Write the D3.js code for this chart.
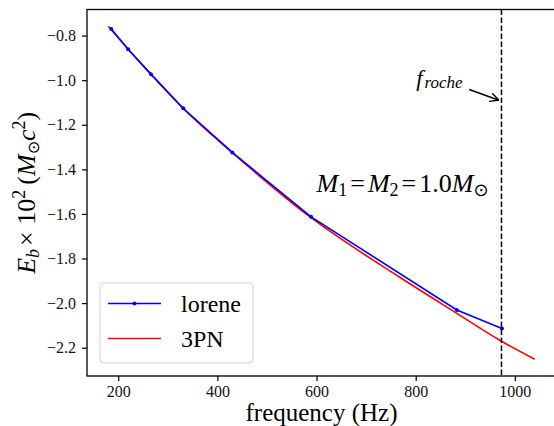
<!DOCTYPE html>
<html>
<head>
<meta charset="utf-8">
<script src="https://cdn.jsdelivr.net/npm/d3@7"></script>
<style>
  body { margin: 0; background: #fff; }
  svg { display: block; }
  svg text { font-family: "Liberation Serif", "Times New Roman", "DejaVu Serif", serif; }
</style>
</head>
<body>
<svg id="chart" width="554" height="426"></svg>
<script>
// lorene sequence
const loreneFreq = [186, 220, 266, 331, 430, 589, 883, 974];
const loreneEb = [-0.770, -0.861, -0.973, -1.126, -1.324, -1.613, -2.031, -2.114];

// 3PN curve
const pnFreq = [180, 220, 266, 331, 430, 589, 767, 883, 973, 1040];
const pnEb = [-0.758, -0.861, -0.974, -1.127, -1.325, -1.617, -1.883, -2.046, -2.171, -2.252];

const xTicks = [200, 400, 600, 800, 1000];
const yTicks = [-0.8, -1.0, -1.2, -1.4, -1.6, -1.8, -2.0, -2.2];

const fRoche = 973;

const margin = { left: 87, top: 9.5, right: 556, bottom: 376 };

const svg = d3.select('#chart');

const x = d3.scaleLinear().domain([137, 1083]).range([margin.left, margin.right]);
const y = d3.scaleLinear().domain([-2.327, -0.683]).range([margin.bottom, margin.top]);

const lorene = loreneFreq.map((f, i) => ({ f: f, e: loreneEb[i] }));
const pn = pnFreq.map((f, i) => ({ f: f, e: pnEb[i] }));

// axes
const xAxis = svg.append('g')
    .attr('transform', `translate(0,${margin.bottom})`)
    .call(d3.axisBottom(x).tickValues(xTicks).tickSize(5).tickPadding(5).tickFormat(d3.format('d')));
const yAxis = svg.append('g')
    .attr('transform', `translate(${margin.left},0)`)
    .call(d3.axisLeft(y).tickValues(yTicks).tickSize(5).tickPadding(6).tickFormat(d3.format('.1f')));

[xAxis, yAxis].forEach(g => {
    g.attr('font-family', null).attr('font-size', null);
    g.select('.domain').remove();
    g.selectAll('.tick line').attr('stroke', '#000').attr('stroke-width', 1.2);
    g.selectAll('.tick text').attr('fill', '#111').style('font-size', '16px');
});

// frame
svg.append('rect')
    .attr('x', margin.left).attr('y', margin.top)
    .attr('width', margin.right - margin.left)
    .attr('height', margin.bottom - margin.top)
    .attr('fill', 'none').attr('stroke', '#000').attr('stroke-width', 1.3);

// 3PN
svg.append('path')
    .datum(pn)
    .attr('fill', 'none')
    .attr('stroke', '#ff0000')
    .attr('stroke-width', 1.6)
    .attr('d', d3.line().x(d => x(d.f)).y(d => y(d.e)).curve(d3.curveMonotoneX));

// lorene
svg.append('path')
    .datum(lorene)
    .attr('fill', 'none')
    .attr('stroke', '#0000ff')
    .attr('stroke-width', 1.6)
    .attr('d', d3.line().x(d => x(d.f)).y(d => y(d.e)));

svg.selectAll('circle.pt')
    .data(lorene)
    .enter()
    .append('circle')
    .attr('class', 'pt')
    .attr('cx', d => x(d.f))
    .attr('cy', d => y(d.e))
    .attr('r', 2)
    .attr('fill', '#0000ff');

// roche frequency
svg.append('line')
    .attr('x1', x(fRoche)).attr('x2', x(fRoche))
    .attr('y1', margin.top).attr('y2', margin.bottom)
    .attr('stroke', '#000').attr('stroke-width', 1.5)
    .attr('stroke-dasharray', '5.5,2.5');

// arrow marker
svg.append('defs').append('marker')
    .attr('id', 'arrow')
    .attr('viewBox', '0 0 10 10')
    .attr('refX', 10).attr('refY', 5)
    .attr('markerWidth', 9).attr('markerHeight', 9)
    .attr('markerUnits', 'userSpaceOnUse')
    .attr('orient', 'auto')
    .append('path')
    .attr('d', 'M0,0 L10,5 L0,10')
    .attr('fill', 'none').attr('stroke', '#000').attr('stroke-width', 1.5);

svg.append('line')
    .attr('x1', x(908)).attr('y1', y(-1.042))
    .attr('x2', x(fRoche) - 2.5).attr('y2', y(-1.09))
    .attr('stroke', '#000').attr('stroke-width', 1.4)
    .attr('marker-end', 'url(#arrow)');

const froche = svg.append('text')
    .attr('x', x(801)).attr('y', y(-1.027))
    .style('font-style', 'italic').style('font-size', '23px');
froche.append('tspan').text('f');
froche.append('tspan').attr('dx', 2).attr('dy', 2).style('font-size', '17px').text('roche');

// mass label
const mass = svg.append('text')
    .attr('x', x(600)).attr('y', y(-1.501))
    .style('font-size', '26px');
mass.append('tspan').style('font-style', 'italic').text('M');
mass.append('tspan').attr('dy', 4).style('font-size', '18px').text('1');
mass.append('tspan').attr('dy', -4).attr('dx', 3).text('=');
mass.append('tspan').attr('dx', 3).style('font-style', 'italic').text('M');
mass.append('tspan').attr('dy', 4).style('font-size', '18px').text('2');
mass.append('tspan').attr('dy', -4).attr('dx', 3).text('=');
mass.append('tspan').attr('dx', 3).text('1.0');
mass.append('tspan').style('font-style', 'italic').text('M');
mass.append('tspan').attr('dy', 4).style('font-size', '18px').style('font-family', '"DejaVu Sans", sans-serif').text('\u2299');

// axis labels
svg.append('text')
    .attr('x', (margin.left + margin.right) / 2)
    .attr('y', 421)
    .attr('text-anchor', 'middle')
    .style('font-size', '25px')
    .text('frequency (Hz)');

const yl = svg.append('text')
    .attr('transform', `translate(35,${(margin.top + margin.bottom) / 2}) rotate(-90)`)
    .attr('text-anchor', 'middle')
    .style('font-size', '26px');
yl.append('tspan').style('font-style', 'italic').text('E');
yl.append('tspan').attr('dy', 4).style('font-size', '18px').style('font-style', 'italic').text('b');
yl.append('tspan').attr('dy', -4).attr('dx', 3).text('\u00d7 10');
yl.append('tspan').attr('dy', -10).style('font-size', '18px').text('2');
yl.append('tspan').attr('dy', 10).attr('dx', 5).text('(');
yl.append('tspan').style('font-style', 'italic').text('M');
yl.append('tspan').attr('dy', 4).style('font-size', '16px').style('font-family', '"DejaVu Sans", sans-serif').text('\u2299');
yl.append('tspan').attr('dy', -4).style('font-style', 'italic').text('c');
yl.append('tspan').attr('dy', -10).style('font-size', '18px').text('2');
yl.append('tspan').attr('dy', 10).text(')');

// legend
const legend = svg.append('g');
legend.append('rect')
    .attr('x', 100).attr('y', 283).attr('width', 153).attr('height', 80)
    .attr('rx', 4)
    .attr('fill', '#fff').attr('fill-opacity', 0.8)
    .attr('stroke', '#d0d0d0').attr('stroke-width', 1);

const legendItems = [
    { name: 'lorene', color: '#0000ff', marker: true },
    { name: '3PN', color: '#ff0000', marker: false }
];
legendItems.forEach((d, i) => {
    const cy = 303.5 + i * 35;
    legend.append('line')
        .attr('x1', 108).attr('x2', 161)
        .attr('y1', cy).attr('y2', cy)
        .attr('stroke', d.color).attr('stroke-width', 1.6);
    if (d.marker) {
        legend.append('circle').attr('cx', 134.5).attr('cy', cy).attr('r', 2).attr('fill', d.color);
    }
    legend.append('text')
        .attr('x', 181).attr('y', cy + 8)
        .style('font-size', '24px')
        .text(d.name);
});
</script>
</body>
</html>
